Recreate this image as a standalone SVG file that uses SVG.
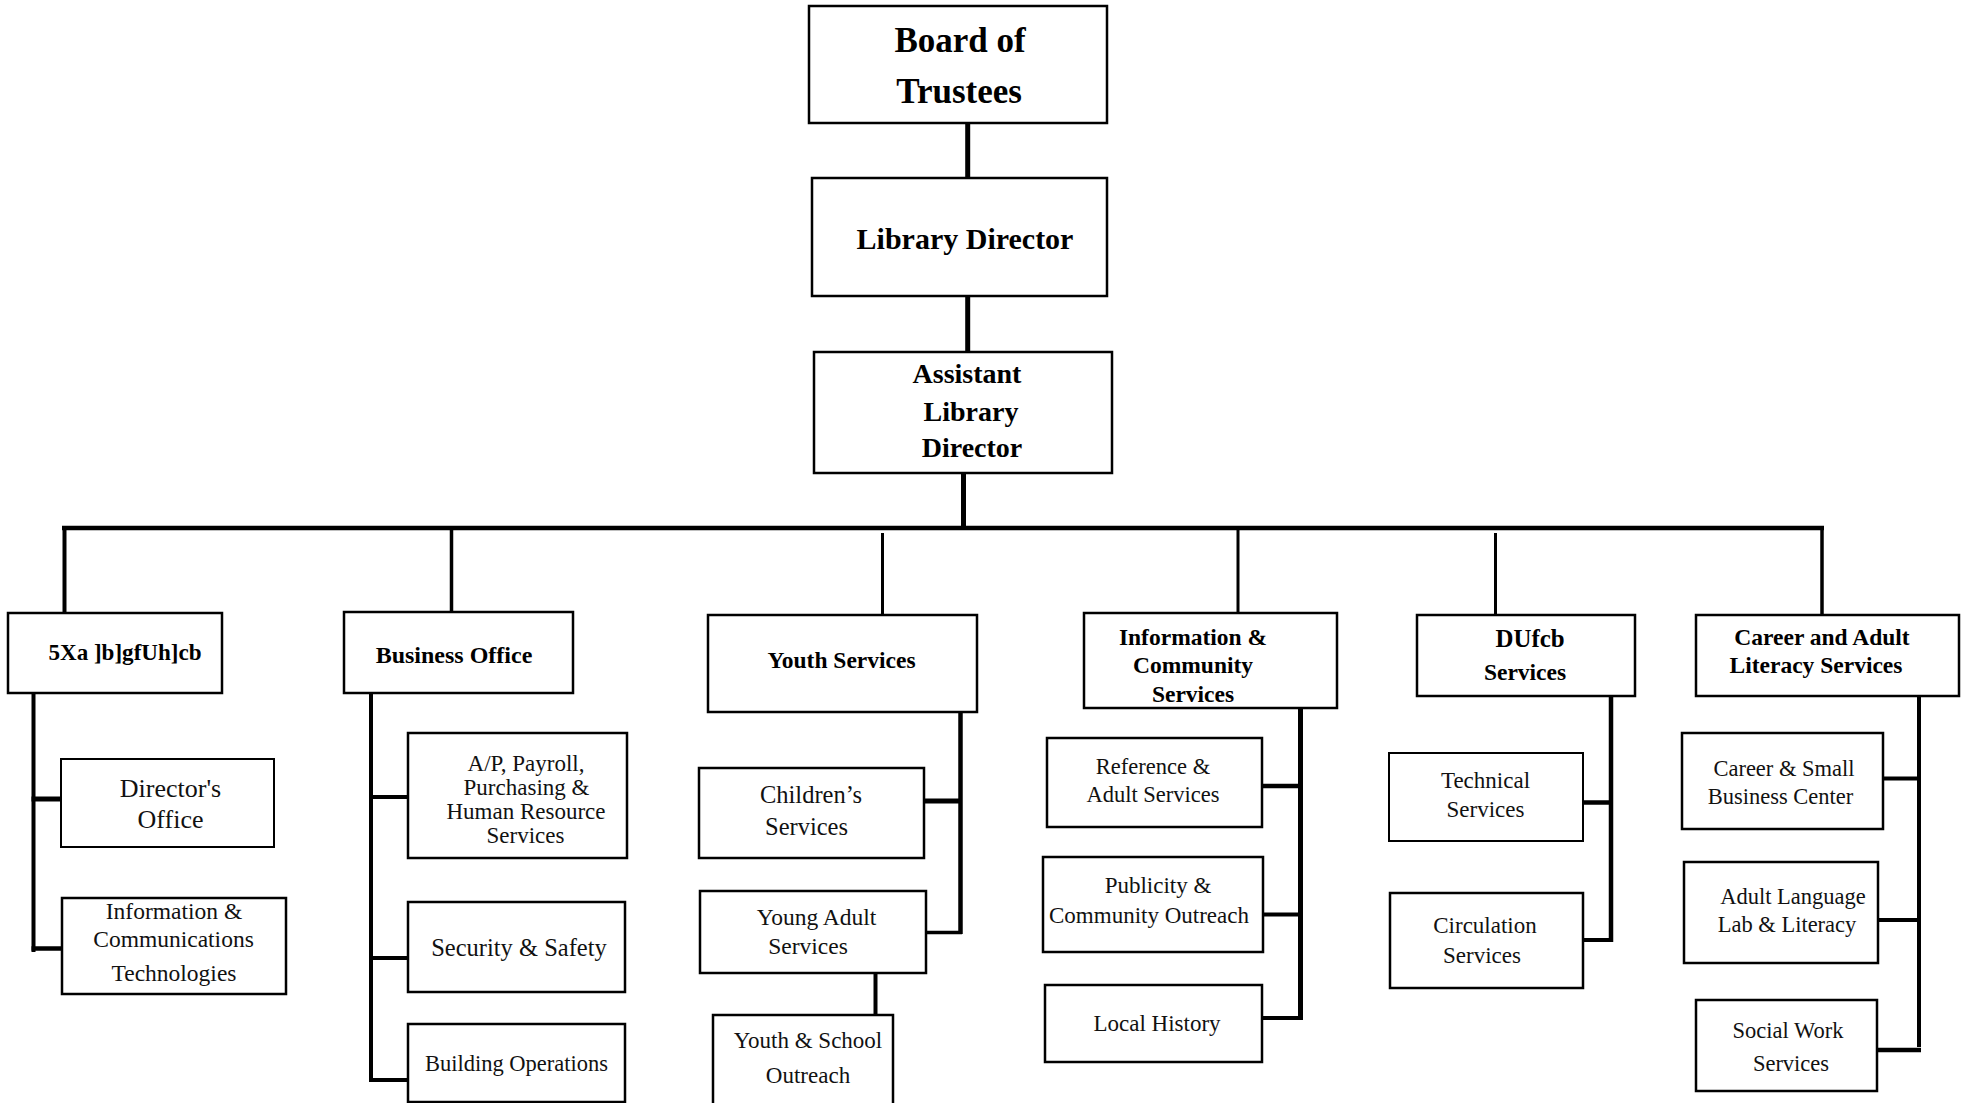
<svg xmlns="http://www.w3.org/2000/svg" width="1965" height="1103" viewBox="0 0 1965 1103">
<style>
.box{fill:#fff;stroke:#000;stroke-width:2.5}
.thin{stroke-width:2}
.ln{stroke:#000;fill:none;stroke-linecap:butt}
text{font-family:"Liberation Serif","Times New Roman",serif;text-anchor:middle;fill:#000}
.t0{font-weight:bold;font-size:35px}
.t1{font-weight:bold;font-size:30px}
.t1b{font-weight:bold;font-size:28px}
.t2{font-weight:bold;font-size:23.5px}
.t3{font-size:23px;fill:#111}
</style>
<rect width="1965" height="1103" fill="#fff"/>
<g id="connectors">
  <line class="ln" x1="967.7" y1="123" x2="967.7" y2="178" stroke-width="5"/>
  <line class="ln" x1="967.7" y1="296" x2="967.7" y2="352" stroke-width="5"/>
  <line class="ln" x1="963.5" y1="473" x2="963.5" y2="528" stroke-width="5"/>
  <line class="ln" x1="62" y1="528" x2="1824" y2="528" stroke-width="4.5"/>
  <line class="ln" x1="64.5" y1="526" x2="64.5" y2="613" stroke-width="4"/>
  <line class="ln" x1="451.5" y1="526" x2="451.5" y2="612" stroke-width="3.5"/>
  <line class="ln" x1="882.5" y1="533" x2="882.5" y2="615" stroke-width="3"/>
  <line class="ln" x1="1238" y1="526" x2="1238" y2="613" stroke-width="3"/>
  <line class="ln" x1="1495.5" y1="533" x2="1495.5" y2="615" stroke-width="3"/>
  <line class="ln" x1="1822" y1="526" x2="1822" y2="615" stroke-width="3.5"/>
  <line class="ln" x1="33.5" y1="693" x2="33.5" y2="952" stroke-width="4"/>
  <line class="ln" x1="31.5" y1="799" x2="61" y2="799" stroke-width="5"/>
  <line class="ln" x1="31.5" y1="948.5" x2="62" y2="948.5" stroke-width="4.5"/>
  <line class="ln" x1="371" y1="693" x2="371" y2="1082" stroke-width="4"/>
  <line class="ln" x1="373" y1="797" x2="408" y2="797" stroke-width="4"/>
  <line class="ln" x1="369" y1="958" x2="408" y2="958" stroke-width="4"/>
  <line class="ln" x1="369" y1="1080" x2="408" y2="1080" stroke-width="4"/>
  <line class="ln" x1="960.5" y1="712" x2="960.5" y2="934" stroke-width="4.5"/>
  <line class="ln" x1="924" y1="801" x2="962" y2="801" stroke-width="5"/>
  <line class="ln" x1="926" y1="932.5" x2="962" y2="932.5" stroke-width="3.5"/>
  <line class="ln" x1="875.5" y1="973" x2="875.5" y2="1015" stroke-width="4"/>
  <line class="ln" x1="1300.5" y1="708" x2="1300.5" y2="1020" stroke-width="5"/>
  <line class="ln" x1="1262" y1="786" x2="1303" y2="786" stroke-width="4.5"/>
  <line class="ln" x1="1263" y1="914.5" x2="1303" y2="914.5" stroke-width="4"/>
  <line class="ln" x1="1262" y1="1018" x2="1303" y2="1018" stroke-width="4"/>
  <line class="ln" x1="1611" y1="696" x2="1611" y2="942" stroke-width="4.5"/>
  <line class="ln" x1="1583" y1="802.5" x2="1613" y2="802.5" stroke-width="4.5"/>
  <line class="ln" x1="1583" y1="940" x2="1613" y2="940" stroke-width="4"/>
  <line class="ln" x1="1919" y1="696" x2="1919" y2="1047" stroke-width="4"/>
  <line class="ln" x1="1883" y1="778.5" x2="1921" y2="778.5" stroke-width="4"/>
  <line class="ln" x1="1878" y1="920" x2="1921" y2="920" stroke-width="4"/>
  <line class="ln" x1="1877" y1="1050" x2="1921" y2="1050" stroke-width="4.5"/>
</g>
<g id="board"><rect class="box" x="809" y="6" width="298" height="117" stroke-width="3"/>
  <text class="t0" x="960" y="52">Board of</text><text class="t0" x="959" y="103">Trustees</text></g>
<g id="library-director"><rect class="box" x="812" y="178" width="295" height="118" stroke-width="3"/>
  <text class="t1" x="965" y="249">Library Director</text></g>
<g id="assistant-director"><rect class="box" x="814" y="352" width="298" height="121" stroke-width="3"/>
  <text class="t1b" x="967" y="383">Assistant</text><text class="t1b" x="971" y="421">Library</text><text class="t1b" x="972" y="457">Director</text></g>
<g id="administration"><rect class="box" x="8" y="613" width="214" height="80"/>
  <text class="t2" x="125" y="660" font-size="24" textLength="153" lengthAdjust="spacingAndGlyphs">5Xa ]b]gfUh]cb</text></g>
<g id="business-office"><rect class="box" x="344" y="612" width="229" height="81"/>
  <text class="t2" x="454" y="663" style="font-size:24px">Business Office</text></g>
<g id="youth-services"><rect class="box" x="708" y="615" width="269" height="97"/>
  <text class="t2" x="841.5" y="668">Youth Services</text></g>
<g id="info-community"><rect class="box" x="1084" y="613" width="253" height="95"/>
  <text class="t2" x="1193" y="645">Information &amp;</text><text class="t2" x="1193" y="673">Community</text><text class="t2" x="1193" y="702">Services</text></g>
<g id="patron-services"><rect class="box" x="1417" y="615" width="218" height="81"/>
  <text class="t2" x="1530" y="647" style="font-size:25px" textLength="69" lengthAdjust="spacingAndGlyphs">DUfcb</text><text class="t2" x="1525" y="680">Services</text></g>
<g id="career-adult"><rect class="box" x="1696" y="615" width="263" height="81"/>
  <text class="t2" x="1822" y="645">Career and Adult</text><text class="t2" x="1816" y="673">Literacy Services</text></g>
<g id="directors-office"><rect class="box thin" x="61" y="759" width="213" height="88"/>
  <text class="t3" x="170.5" y="797" style="font-size:26px">Director's</text><text class="t3" x="170.5" y="828" style="font-size:26px">Office</text></g>
<g id="ict"><rect class="box" x="62" y="898" width="224" height="96" stroke-width="3"/>
  <text class="t3" x="174" y="919" style="font-size:23.5px">Information &amp;</text><text class="t3" x="173.5" y="947" style="font-size:23.5px">Communications</text><text class="t3" x="174" y="981" style="font-size:23.5px">Technologies</text></g>
<g id="ap-payroll"><rect class="box" x="408" y="733" width="219" height="125"/>
  <text class="t3" x="526" y="771">A/P, Payroll,</text><text class="t3" x="526.5" y="795">Purchasing &amp;</text><text class="t3" x="526" y="819">Human Resource</text><text class="t3" x="525.5" y="843">Services</text></g>
<g id="security-safety"><rect class="box" x="408" y="902" width="217" height="90"/>
  <text class="t3" x="519" y="956" style="font-size:24.5px">Security &amp; Safety</text></g>
<g id="building-operations"><rect class="box" x="408" y="1024" width="217" height="78"/>
  <text class="t3" x="516.5" y="1071" style="font-size:22.5px">Building Operations</text></g>
<g id="childrens-services"><rect class="box" x="699" y="768" width="225" height="90"/>
  <text class="t3" x="811" y="803" style="font-size:24.5px">Children’s</text><text class="t3" x="806.5" y="835" style="font-size:24.5px">Services</text></g>
<g id="young-adult"><rect class="box" x="700" y="891" width="226" height="82"/>
  <text class="t3" x="816.5" y="925" style="font-size:23.5px">Young Adult</text><text class="t3" x="808" y="954" style="font-size:23.5px">Services</text></g>
<g id="youth-school"><rect class="box" x="713" y="1015" width="180" height="100"/>
  <text class="t3" x="808" y="1048">Youth &amp; School</text><text class="t3" x="808" y="1083">Outreach</text></g>
<g id="reference-adult"><rect class="box" x="1047" y="738" width="215" height="89"/>
  <text class="t3" x="1153" y="774" style="font-size:22.5px">Reference &amp;</text><text class="t3" x="1153" y="802" style="font-size:22.5px">Adult Services</text></g>
<g id="publicity"><rect class="box" x="1043" y="857" width="220" height="95"/>
  <text class="t3" x="1158" y="893">Publicity &amp;</text><text class="t3" x="1149" y="923">Community Outreach</text></g>
<g id="local-history"><rect class="box" x="1045" y="985" width="217" height="77"/>
  <text class="t3" x="1157" y="1031">Local History</text></g>
<g id="technical-services"><rect class="box thin" x="1389" y="753" width="194" height="88"/>
  <text class="t3" x="1485.5" y="788">Technical</text><text class="t3" x="1485.5" y="817">Services</text></g>
<g id="circulation-services"><rect class="box" x="1390" y="893" width="193" height="95"/>
  <text class="t3" x="1485" y="933">Circulation</text><text class="t3" x="1482" y="963">Services</text></g>
<g id="career-small-business"><rect class="box" x="1682" y="733" width="201" height="96"/>
  <text class="t3" x="1784" y="776" style="font-size:22.5px">Career &amp; Small</text><text class="t3" x="1780.5" y="804" style="font-size:22.5px">Business Center</text></g>
<g id="adult-language"><rect class="box" x="1684" y="862" width="194" height="101"/>
  <text class="t3" x="1793" y="904" style="font-size:22.5px">Adult Language</text><text class="t3" x="1787" y="932" style="font-size:22.5px">Lab &amp; Literacy</text></g>
<g id="social-work"><rect class="box" x="1696" y="1000" width="181" height="91"/>
  <text class="t3" x="1788" y="1038" style="font-size:22.5px">Social Work</text><text class="t3" x="1791" y="1071" style="font-size:22.5px">Services</text></g>
</svg>
